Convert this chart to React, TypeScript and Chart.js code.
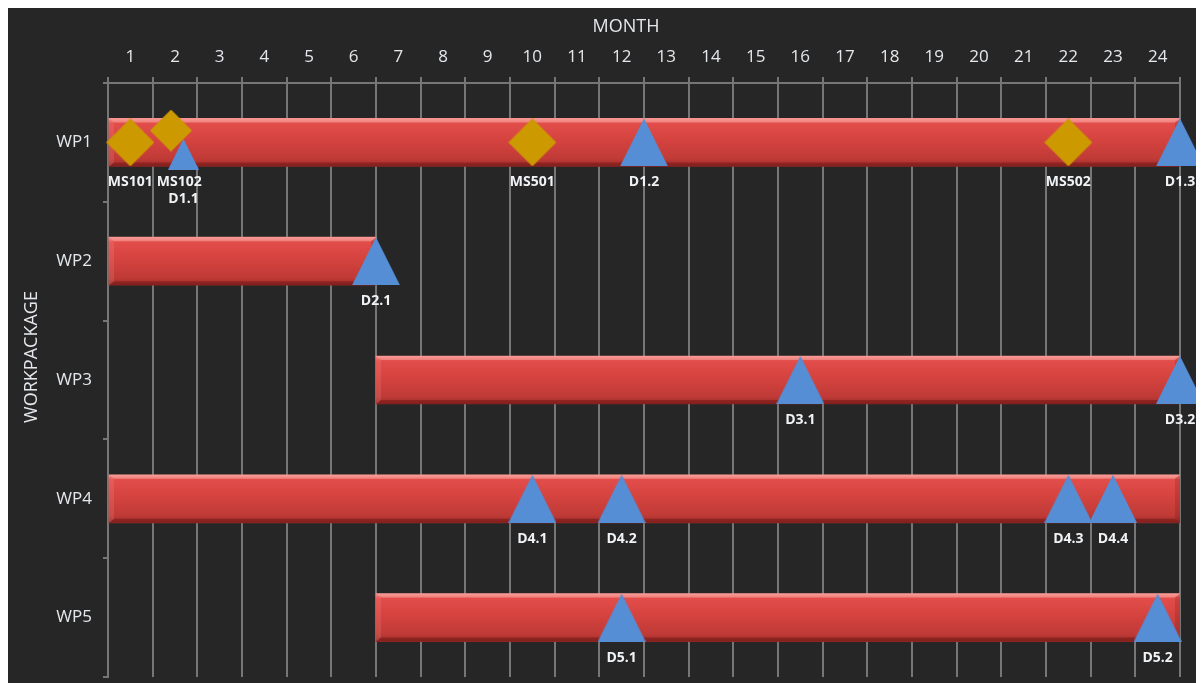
import React, { useEffect, useRef } from 'react';
import { Chart, registerables } from 'chart.js';

Chart.register(...registerables);

// ---------- data ----------
const workPackages = ['WP1', 'WP2', 'WP3', 'WP4', 'WP5'];
const monthLabels = ['1', '2', '3', '4', '5', '6', '7', '8', '9', '10', '11', '12', '13', '14', '15', '16', '17', '18', '19', '20', '21', '22', '23', '24'];
const barStart = [0, 0, 6, 0, 6];
const barEnd = [24, 6, 24, 24, 24];

const milestoneNames = ['MS101', 'MS102', 'MS501', 'MS502'];
const milestoneMonth = [0.5, 1.41, 9.5, 21.5];
const milestoneRow = [1, 0.9, 1, 1];

const deliverableNames = ['D1.1', 'D1.2', 'D1.3', 'D2.1', 'D3.1', 'D3.2', 'D4.1', 'D4.2', 'D4.3', 'D4.4', 'D5.1', 'D5.2'];
const deliverableMonth = [1.69, 12, 24, 6, 15.5, 24, 9.5, 11.5, 21.5, 22.5, 11.5, 23.5];
const deliverableRow = [1.1, 1, 1, 2, 3, 3, 4, 4, 4, 4, 5, 5];

// ---------- styles ----------
const BG = '#262626';
const TEXT = '#e4e8ec';
const GRID = '#767676';
const BLUE = '#558ed5';
const GOLD = '#cc9900';
const smallMarkers = ['MS102', 'D1.1'];

function makeMarker(kind: 'tri' | 'dia', w: number, h: number, color: string) {
  const c = document.createElement('canvas');
  c.width = w;
  c.height = h;
  const g = c.getContext('2d')!;
  g.fillStyle = color;
  g.beginPath();
  if (kind === 'tri') {
    g.moveTo(w / 2, 0);
    g.lineTo(w, h);
    g.lineTo(0, h);
  } else {
    g.moveTo(w / 2, 0);
    g.lineTo(w, h / 2);
    g.lineTo(w / 2, h);
    g.lineTo(0, h / 2);
  }
  g.closePath();
  g.fill();
  return c;
}

const bevelPlugin = {
  id: 'bevel',
  afterDatasetDraw(chart: any, args: any) {
    if (args.index !== 0) return;
    const ctx = chart.ctx;
    const meta = chart.getDatasetMeta(0);
    const b = 5;
    ctx.save();
    meta.data.forEach((el: any) => {
      const { x, y, base, height } = el.getProps(['x', 'y', 'base', 'height'], true);
      const l = Math.min(x, base);
      const r = Math.max(x, base);
      const t = y - height / 2;
      const bt = y + height / 2;
      ctx.fillStyle = 'rgba(255,190,185,0.38)';
      ctx.beginPath();
      ctx.moveTo(l, t); ctx.lineTo(r, t); ctx.lineTo(r - b, t + b - 1); ctx.lineTo(l + b, t + b - 1); ctx.closePath(); ctx.fill();
      ctx.fillStyle = 'rgba(70,0,0,0.28)';
      ctx.beginPath();
      ctx.moveTo(l, bt); ctx.lineTo(r, bt); ctx.lineTo(r - b, bt - b + 1); ctx.lineTo(l + b, bt - b + 1); ctx.closePath(); ctx.fill();
      ctx.fillStyle = 'rgba(255,170,165,0.16)';
      ctx.beginPath();
      ctx.moveTo(l, t); ctx.lineTo(l + b, t + b - 1); ctx.lineTo(l + b, bt - b + 1); ctx.lineTo(l, bt); ctx.closePath(); ctx.fill();
      ctx.fillStyle = 'rgba(60,0,0,0.14)';
      ctx.beginPath();
      ctx.moveTo(r, t); ctx.lineTo(r - b, t + b - 1); ctx.lineTo(r - b, bt - b + 1); ctx.lineTo(r, bt); ctx.closePath(); ctx.fill();
    });
    ctx.restore();
  },
};

const labelPlugin = {
  id: 'markerLabels',
  afterDatasetsDraw(chart: any) {
    const ctx = chart.ctx;
    const yCat = chart.scales.y;
    const items: any[] = [];
    chart.data.datasets.forEach((ds: any, di: number) => {
      if (!ds.names) return;
      const meta = chart.getDatasetMeta(di);
      meta.data.forEach((pt: any, i: number) => {
        items.push({ name: ds.names[i], x: pt.x, row: Math.round(ds.data[i].y) - 1 });
      });
    });
    ctx.save();
    ctx.font = 'bold 14px "Open Sans"';
    ctx.fillStyle = '#f0f3f6';
    ctx.textAlign = 'center';
    ctx.textBaseline = 'middle';
    for (let row = 0; row < workPackages.length; row++) {
      const rowItems = items.filter((it) => it.row === row).sort((a, b) => a.x - b.x);
      const lines: any[][] = [];
      const yc = yCat.getPixelForValue(row) + 40;
      rowItems.forEach((it) => {
        const w = ctx.measureText(it.name).width;
        let li = 0;
        let cx = it.x;
        while (true) {
          if (!lines[li]) lines[li] = [];
          const last = lines[li][lines[li].length - 1];
          if (last && Math.abs(cx - last.cx) < 20) { li++; continue; }
          if (last && cx - w / 2 < last.right + 4) cx = last.right + 4 + w / 2;
          break;
        }
        lines[li].push({ cx, right: cx + w / 2 });
        ctx.fillText(it.name, cx, yc + li * 17);
      });
    }
    ctx.restore();
  },
};

const titlePlugin = {
  id: 'axisTitles',
  afterDraw(chart: any) {
    const ctx = chart.ctx;
    const a = chart.chartArea;
    ctx.save();
    ctx.fillStyle = TEXT;
    ctx.font = '18px "Open Sans"';
    ctx.textAlign = 'center';
    ctx.textBaseline = 'middle';
    ctx.fillText('MONTH', (a.left + a.right) / 2 - 18, 19);
    ctx.translate(24, (a.top + a.bottom) / 2 - 23);
    ctx.rotate(-Math.PI / 2);
    ctx.fillText('WORKPACKAGE', 0, 0);
    ctx.restore();
  },
};

export default function App() {
  const ref = useRef<HTMLCanvasElement | null>(null);

  useEffect(() => {
    document.documentElement.style.overflow = 'hidden';
    document.body.style.overflow = 'hidden';
    Chart.defaults.font.family = '"Open Sans"';

    const tri = makeMarker('tri', 48, 48, BLUE);
    const triSmall = makeMarker('tri', 31, 31, BLUE);
    const dia = makeMarker('dia', 48, 48, GOLD);
    const diaSmall = makeMarker('dia', 42, 42, GOLD);

    const chart = new Chart(ref.current!, {
      type: 'bar',
      data: {
        labels: workPackages,
        datasets: [
          {
            type: 'bar',
            label: 'Workpackages',
            indexAxis: 'y',
            xAxisID: 'x',
            yAxisID: 'y',
            data: workPackages.map((_, i) => [barStart[i], barEnd[i]]),
            barThickness: 48,
            borderWidth: 0,
            order: 3,
            backgroundColor: (c: any) => {
              const ch = c.chart;
              const ys = ch.scales.y;
              if (!ys || c.dataIndex === undefined || !ch.chartArea) return '#d3423f';
              const yc = ys.getPixelForValue(c.dataIndex);
              const g = ch.ctx.createLinearGradient(0, yc - 24, 0, yc + 24);
              g.addColorStop(0, '#f58a86');
              g.addColorStop(0.1, '#e24d4a');
              g.addColorStop(0.45, '#d5433f');
              g.addColorStop(0.85, '#bf3a36');
              g.addColorStop(1, '#9a2c29');
              return g;
            },
          } as any,
          {
            type: 'scatter',
            label: 'Deliverables',
            indexAxis: 'x',
            xAxisID: 'x',
            yAxisID: 'y2',
            names: deliverableNames,
            data: deliverableNames.map((_, i) => ({ x: deliverableMonth[i], y: deliverableRow[i] })),
            pointStyle: (c: any) => (smallMarkers.includes(deliverableNames[c.dataIndex]) ? triSmall : tri),
            order: 2,
            clip: false,
          } as any,
          {
            type: 'scatter',
            label: 'Milestones',
            indexAxis: 'x',
            xAxisID: 'x',
            yAxisID: 'y2',
            names: milestoneNames,
            data: milestoneNames.map((_, i) => ({ x: milestoneMonth[i], y: milestoneRow[i] })),
            pointStyle: (c: any) => (smallMarkers.includes(milestoneNames[c.dataIndex]) ? diaSmall : dia),
            order: 1,
            clip: false,
          } as any,
        ],
      },
      options: {
        animation: false,
        responsive: false,
        events: [],
        layout: { padding: { left: 0, top: 0, right: 24, bottom: 6 } },
        plugins: {
          legend: { display: false },
          tooltip: { enabled: false },
          title: { display: false },
        },
        scales: {
          x: {
            type: 'linear',
            position: 'top',
            min: 0,
            max: 24,
            offset: false,
            afterFit: (s: any) => {
              s.height = 75;
              s.paddingLeft = 0;
              s.paddingRight = 0;
            },
            ticks: {
              stepSize: 1,
              autoSkip: false,
              maxRotation: 0,
              color: TEXT,
              font: { size: 17 },
              padding: 10,
              labelOffset: 22.33,
              callback: (v: any) => monthLabels[v as number] ?? '',
            },
            grid: { offset: false, color: GRID, lineWidth: 2, tickLength: 6, drawOnChartArea: true },
            border: { display: true, color: GRID, width: 2 },
          },
          y: {
            type: 'category',
            position: 'left',
            offset: true,
            afterFit: (s: any) => {
              s.width = 100;
              s.paddingTop = 0;
              s.paddingBottom = 0;
            },
            ticks: { color: TEXT, font: { size: 17 }, padding: 11 },
            grid: { offset: true, color: GRID, lineWidth: 2, tickLength: 5, drawOnChartArea: false },
            border: { display: true, color: GRID, width: 2 },
          },
          y2: {
            type: 'linear',
            display: false,
            min: 0.5,
            max: 5.5,
            reverse: true,
          },
        },
      } as any,
      plugins: [bevelPlugin, labelPlugin, titlePlugin],
    });
    return () => chart.destroy();
  }, []);

  return (
    <div style={{ width: 1196, height: 675, background: BG }}>
      <canvas ref={ref} width={1196} height={675} style={{ display: 'block' }} />
    </div>
  );
}
